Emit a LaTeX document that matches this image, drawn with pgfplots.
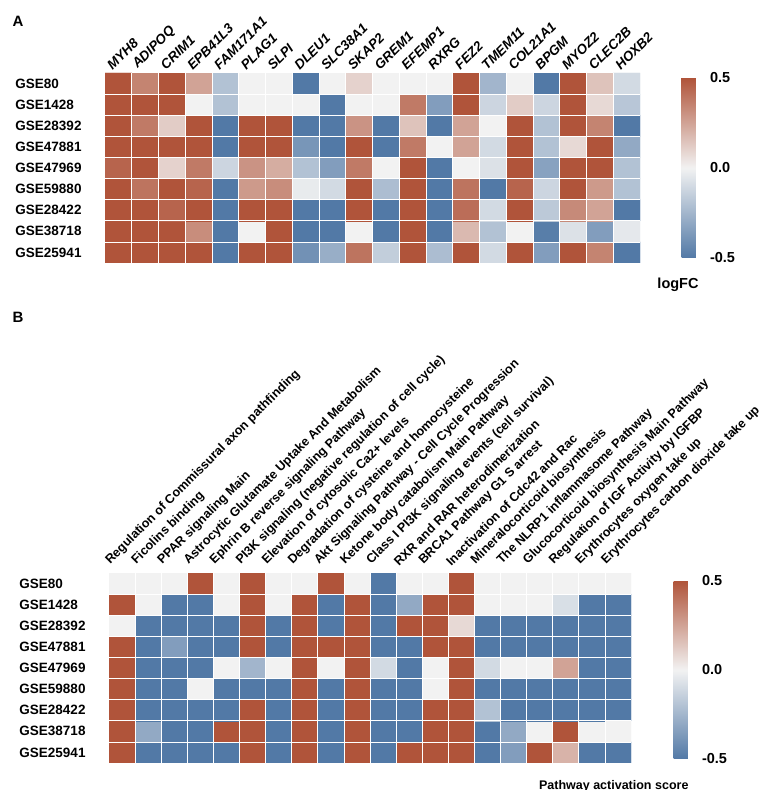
\documentclass[border=0pt]{standalone}
\usepackage{pgfplots}
\pgfplotsset{compat=1.18}
\usepackage{fontspec}
\setmainfont{Liberation Sans}
\begin{document}
\begin{tikzpicture}[x=1pt,y=1pt]
\useasboundingbox (0,0) rectangle (767,790);
\pgfplotsset{
  hm/.style={
    scale only axis,
    colormap={hm}{rgb255=(82,121,166) rgb255=(242,242,242) rgb255=(176,84,58)},
    point meta min=-0.5, point meta max=0.5,
    enlargelimits=false,
    axis line style={draw=none},
    major tick length=0pt, minor tick length=0pt,
    xmin=-0.5, xmax=19.5, ymin=-0.5, ymax=8.5,
    xtick={0,...,19},
    ytick={0,...,8},
    yticklabels={GSE25941,GSE38718,GSE28422,GSE59880,GSE47969,GSE47881,GSE28392,GSE1428,GSE80},
    yticklabel style={font=\bfseries\fontsize{13.5}{16}\selectfont, text width=86pt, align=left},
    xticklabel pos=upper,
    minor xtick={0.5,1.5,...,18.5},
    minor ytick={0.5,1.5,...,7.5},
    yminorgrids, xminorgrids,
    minor grid style={white, line width=0.7pt},
    axis on top,
    colorbar,
  },
  cb/.style={
    colorbar style={
      at={(parent axis.north east)}, anchor=north west,
      width=25pt, height=180pt,
      y dir=normal,
      axis line style={draw=none},
      major tick length=0pt,
      minor ytick={}, minor xtick={}, xminorgrids=false, yminorgrids=false,
      ytick={-0.5,0,0.5},
      yticklabels={-0.5,0.0,0.5},
      yticklabel style={font=\bfseries\fontsize{14.5}{17}\selectfont},
      #1
    }
  }
}
\node[anchor=west, font=\bfseries\fontsize{15}{17}\selectfont] at (9,769) {A};
\node[anchor=west, font=\bfseries\fontsize{15}{17}\selectfont] at (9,473) {B};

\begin{axis}[hm, at={(105pt,527pt)}, anchor=south west, width=535pt, height=190pt,
  xticklabels={MYH8,ADIPOQ,CRIM1,EPB41L3,FAM171A1,PLAG1,SLPI,DLEU1,SLC38A1,SKAP2,GREM1,EFEMP1,RXRG,FEZ2,TMEM11,COL21A1,BPGM,MYOZ2,CLEC2B,HOXB2},
  xticklabel style={rotate=45, anchor=south west, font=\bfseries\itshape\fontsize{13.5}{16}\selectfont, xshift=-6pt, yshift=2pt},
  cb={xshift=33pt, yshift=-5pt}]
\addplot[matrix plot*, mesh/cols=20, point meta=explicit] coordinates {
(0,0)[0.5] (1,0)[0.5] (2,0)[0.5] (3,0)[0.5] (4,0)[-0.5] (5,0)[0.5] (6,0)[0.5] (7,0)[-0.4] (8,0)[-0.28] (9,0)[0.4] (10,0)[-0.15] (11,0)[0.5] (12,0)[-0.22] (13,0)[0.5] (14,0)[-0.1] (15,0)[0.5] (16,0)[-0.35] (17,0)[0.5] (18,0)[0.35] (19,0)[-0.5]
(0,1)[0.5] (1,1)[0.5] (2,1)[0.5] (3,1)[0.32] (4,1)[-0.5] (5,1)[0] (6,1)[0.5] (7,1)[-0.5] (8,1)[-0.5] (9,1)[0] (10,1)[-0.5] (11,1)[0.5] (12,1)[-0.5] (13,1)[0.18] (14,1)[-0.2] (15,1)[0] (16,1)[-0.48] (17,1)[-0.07] (18,1)[-0.35] (19,1)[-0.04]
(0,2)[0.5] (1,2)[0.5] (2,2)[0.45] (3,2)[0.5] (4,2)[-0.5] (5,2)[0.5] (6,2)[0.5] (7,2)[-0.5] (8,2)[-0.5] (9,2)[0.5] (10,2)[-0.5] (11,2)[0.5] (12,2)[-0.5] (13,2)[0.42] (14,2)[-0.1] (15,2)[0.5] (16,2)[-0.17] (17,2)[0.33] (18,2)[0.25] (19,2)[-0.5]
(0,3)[0.5] (1,3)[0.4] (2,3)[0.5] (3,3)[0.45] (4,3)[-0.5] (5,3)[0.28] (6,3)[0.32] (7,3)[-0.03] (8,3)[-0.1] (9,3)[0.5] (10,3)[-0.22] (11,3)[0.5] (12,3)[-0.5] (13,3)[0.4] (14,3)[-0.5] (15,3)[0.45] (16,3)[-0.12] (17,3)[0.5] (18,3)[0.28] (19,3)[-0.2]
(0,4)[0.45] (1,4)[0.5] (2,4)[0.1] (3,4)[0.38] (4,4)[-0.12] (5,4)[0.3] (6,4)[0.22] (7,4)[-0.2] (8,4)[-0.35] (9,4)[0.38] (10,4)[0] (11,4)[0.5] (12,4)[-0.5] (13,4)[0] (14,4)[-0.07] (15,4)[0.5] (16,4)[-0.33] (17,4)[0.5] (18,4)[0.5] (19,4)[-0.2]
(0,5)[0.5] (1,5)[0.5] (2,5)[0.5] (3,5)[0.5] (4,5)[-0.5] (5,5)[0.5] (6,5)[0.5] (7,5)[-0.38] (8,5)[-0.5] (9,5)[0.5] (10,5)[-0.5] (11,5)[0.38] (12,5)[0] (13,5)[0.25] (14,5)[-0.1] (15,5)[0.5] (16,5)[-0.2] (17,5)[0.08] (18,5)[0.5] (19,5)[-0.3]
(0,6)[0.5] (1,6)[0.38] (2,6)[0.12] (3,6)[0.5] (4,6)[-0.5] (5,6)[0.5] (6,6)[0.5] (7,6)[-0.5] (8,6)[-0.5] (9,6)[0.3] (10,6)[-0.5] (11,6)[0.15] (12,6)[-0.5] (13,6)[0.25] (14,6)[0] (15,6)[0.5] (16,6)[-0.2] (17,6)[0.5] (18,6)[0.35] (19,6)[-0.5]
(0,7)[0.5] (1,7)[0.5] (2,7)[0.5] (3,7)[0] (4,7)[-0.2] (5,7)[0] (6,7)[0] (7,7)[0] (8,7)[-0.5] (9,7)[0] (10,7)[0] (11,7)[0.38] (12,7)[-0.35] (13,7)[0.5] (14,7)[-0.12] (15,7)[0.12] (16,7)[-0.12] (17,7)[0.5] (18,7)[0.08] (19,7)[-0.18]
(0,8)[0.5] (1,8)[0.35] (2,8)[0.5] (3,8)[0.25] (4,8)[-0.2] (5,8)[0] (6,8)[0] (7,8)[-0.5] (8,8)[0] (9,8)[0.1] (10,8)[0] (11,8)[0] (12,8)[0] (13,8)[0.5] (14,8)[-0.25] (15,8)[0] (16,8)[-0.5] (17,8)[0.5] (18,8)[0.15] (19,8)[-0.1]
};
\end{axis}
\node[font=\bfseries\fontsize{14.5}{17}\selectfont] at (678,505) {logFC};

\begin{axis}[hm, at={(109pt,27pt)}, anchor=south west, width=522pt, height=190pt,
  xticklabels={Regulation of Commissural axon pathfinding,Ficolins binding,PPAR signaling Main,Astrocytic Glutamate Uptake And Metabolism,Ephrin B reverse signaling Pathway,PI3K signaling (negative regulation of cell cycle),Elevation of cytosolic Ca2+ levels,Degradation of cysteine and homocysteine,Akt Signaling Pathway - Cell Cycle Progression,Ketone body catabolism Main Pathway,Class I PI3K signaling events (cell survival),RXR and RAR heterodimerization,BRCA1 Pathway G1 S arrest,Inactivation of Cdc42 and Rac,Mineralocorticoid biosynthesis,The NLRP1 inflammasome Pathway,Glucocorticoid biosynthesis Main Pathway,Regulation of IGF Activity by IGFBP,Erythrocytes oxygen take up,Erythrocytes carbon dioxide take up},
  xticklabel style={rotate=45, anchor=south west, font=\bfseries\fontsize{12.6}{15}\selectfont, xshift=-6pt, yshift=8pt},
  cb={xshift=34pt, yshift=-8pt, height=178pt}]
\addplot[matrix plot*, mesh/cols=20, point meta=explicit] coordinates {
(0,0)[0.5] (1,0)[-0.5] (2,0)[-0.5] (3,0)[-0.5] (4,0)[-0.5] (5,0)[0.5] (6,0)[-0.5] (7,0)[0.5] (8,0)[-0.5] (9,0)[0.5] (10,0)[-0.5] (11,0)[0.5] (12,0)[0.5] (13,0)[0.5] (14,0)[-0.5] (15,0)[-0.35] (16,0)[0.5] (17,0)[0.2] (18,0)[-0.5] (19,0)[-0.5]
(0,1)[0.5] (1,1)[-0.3] (2,1)[-0.5] (3,1)[-0.5] (4,1)[0.5] (5,1)[0.5] (6,1)[-0.5] (7,1)[0.5] (8,1)[-0.5] (9,1)[0.5] (10,1)[-0.5] (11,1)[-0.5] (12,1)[0.5] (13,1)[0.5] (14,1)[-0.5] (15,1)[-0.3] (16,1)[0] (17,1)[0.5] (18,1)[0] (19,1)[0]
(0,2)[0.5] (1,2)[-0.5] (2,2)[-0.5] (3,2)[-0.5] (4,2)[-0.5] (5,2)[0.5] (6,2)[-0.5] (7,2)[0.5] (8,2)[-0.5] (9,2)[0.5] (10,2)[-0.5] (11,2)[-0.5] (12,2)[0.5] (13,2)[0.5] (14,2)[-0.2] (15,2)[-0.5] (16,2)[-0.5] (17,2)[-0.5] (18,2)[-0.5] (19,2)[-0.5]
(0,3)[0.5] (1,3)[-0.5] (2,3)[-0.5] (3,3)[0] (4,3)[-0.5] (5,3)[-0.5] (6,3)[-0.5] (7,3)[0.5] (8,3)[-0.5] (9,3)[0.5] (10,3)[-0.5] (11,3)[-0.5] (12,3)[0] (13,3)[0.5] (14,3)[-0.5] (15,3)[-0.5] (16,3)[-0.5] (17,3)[-0.5] (18,3)[-0.5] (19,3)[-0.5]
(0,4)[0.5] (1,4)[-0.5] (2,4)[-0.5] (3,4)[-0.5] (4,4)[0] (5,4)[-0.25] (6,4)[0] (7,4)[0.5] (8,4)[0] (9,4)[0.5] (10,4)[-0.1] (11,4)[-0.5] (12,4)[0] (13,4)[0.5] (14,4)[-0.1] (15,4)[0] (16,4)[0] (17,4)[0.25] (18,4)[-0.5] (19,4)[-0.5]
(0,5)[0.5] (1,5)[-0.5] (2,5)[-0.35] (3,5)[-0.5] (4,5)[-0.5] (5,5)[0.5] (6,5)[-0.5] (7,5)[0.5] (8,5)[0.5] (9,5)[0.5] (10,5)[-0.5] (11,5)[-0.5] (12,5)[0.5] (13,5)[0.5] (14,5)[-0.5] (15,5)[-0.5] (16,5)[-0.5] (17,5)[-0.5] (18,5)[-0.5] (19,5)[-0.5]
(0,6)[0] (1,6)[-0.5] (2,6)[-0.5] (3,6)[-0.5] (4,6)[-0.5] (5,6)[0.5] (6,6)[-0.5] (7,6)[0.5] (8,6)[-0.5] (9,6)[0.5] (10,6)[-0.5] (11,6)[0.5] (12,6)[0.5] (13,6)[0.08] (14,6)[-0.5] (15,6)[-0.5] (16,6)[-0.5] (17,6)[-0.5] (18,6)[-0.5] (19,6)[-0.5]
(0,7)[0.5] (1,7)[0] (2,7)[-0.5] (3,7)[-0.5] (4,7)[0] (5,7)[0.5] (6,7)[0] (7,7)[0.5] (8,7)[-0.5] (9,7)[0.5] (10,7)[-0.5] (11,7)[-0.3] (12,7)[0.5] (13,7)[0.5] (14,7)[0] (15,7)[0] (16,7)[0] (17,7)[-0.08] (18,7)[-0.5] (19,7)[-0.5]
(0,8)[0] (1,8)[0] (2,8)[0] (3,8)[0.5] (4,8)[0] (5,8)[0.5] (6,8)[0] (7,8)[0] (8,8)[0.5] (9,8)[0] (10,8)[-0.5] (11,8)[0] (12,8)[0] (13,8)[0.5] (14,8)[0] (15,8)[0] (16,8)[0] (17,8)[0] (18,8)[0] (19,8)[0]
};
\end{axis}
\node[anchor=east, font=\bfseries\fontsize{12.5}{15}\selectfont] at (692,4) {Pathway activation score};
\end{tikzpicture}
\end{document}
